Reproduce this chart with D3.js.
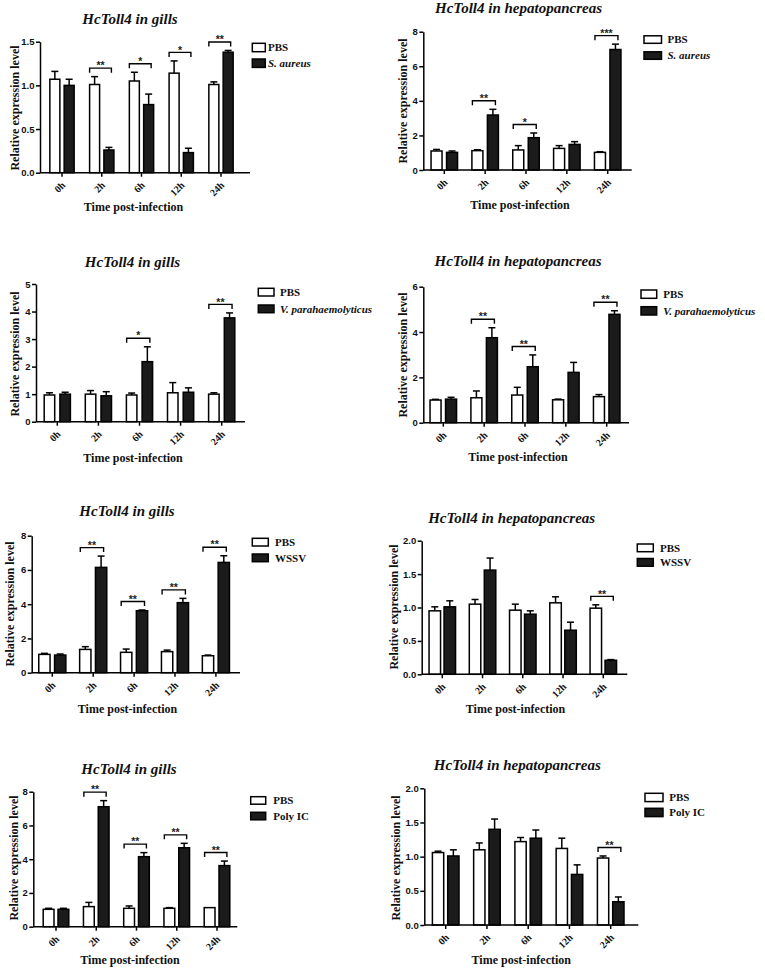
<!DOCTYPE html>
<html>
<head>
<meta charset="utf-8">
<script src="https://cdn.jsdelivr.net/npm/d3@7"></script>
<style>
html,body{margin:0;padding:0;background:#fff;}
svg{display:block;}
</style>
</head>
<body>
<svg id="chart" width="765" height="971"></svg>
<script>
// ---------------- DATA ----------------
const categories = ["0h", "2h", "6h", "12h", "24h"];
const controlName = "PBS";
const titleGills = "HcToll4 in gills";
const titleHepato = "HcToll4 in hepatopancreas";
const treatments = ["S. aureus", "V. parahaemolyticus", "WSSV", "Poly IC"];
const xAxisTitle = "Time post-infection";
const yAxisTitle = "Relative expression level";

// S. aureus - gills
const p1Pbs = [1.07, 1.01, 1.05, 1.14, 1.01];
const p1PbsErr = [0.09, 0.09, 0.10, 0.14, 0.03];
const p1Trt = [1.00, 0.26, 0.78, 0.23, 1.38];
const p1TrtErr = [0.07, 0.03, 0.12, 0.05, 0.02];
const p1Sig = ["", "**", "*", "*", "**"];
const p1Ticks = [0, 0.5, 1.0, 1.5];

// S. aureus - hepatopancreas
const p2Pbs = [1.10, 1.12, 1.16, 1.25, 1.02];
const p2PbsErr = [0.09, 0.05, 0.25, 0.16, 0.04];
const p2Trt = [1.02, 3.18, 1.87, 1.48, 6.97];
const p2TrtErr = [0.08, 0.33, 0.27, 0.16, 0.31];
const p2Sig = ["", "**", "*", "", "***"];
const p2Ticks = [0, 2, 4, 6, 8];

// V. parahaemolyticus - gills
const p3Pbs = [0.97, 1.00, 0.97, 1.05, 1.00];
const p3PbsErr = [0.08, 0.13, 0.07, 0.37, 0.05];
const p3Trt = [1.00, 0.94, 2.18, 1.07, 3.77];
const p3TrtErr = [0.07, 0.15, 0.54, 0.16, 0.18];
const p3Sig = ["", "", "*", "", "**"];
const p3Ticks = [0, 1, 2, 3, 4, 5];

// V. parahaemolyticus - hepatopancreas
const p4Pbs = [1.00, 1.10, 1.22, 1.01, 1.15];
const p4PbsErr = [0.03, 0.30, 0.34, 0.03, 0.09];
const p4Trt = [1.04, 3.75, 2.47, 2.22, 4.78];
const p4TrtErr = [0.08, 0.44, 0.52, 0.44, 0.16];
const p4Sig = ["", "**", "**", "", "**"];
const p4Ticks = [0, 2, 4, 6];

// WSSV - gills
const p5Pbs = [1.07, 1.36, 1.19, 1.23, 0.99];
const p5PbsErr = [0.06, 0.16, 0.19, 0.09, 0.04];
const p5Trt = [1.03, 6.15, 3.62, 4.09, 6.44];
const p5TrtErr = [0.06, 0.66, 0.04, 0.25, 0.39];
const p5Sig = ["", "**", "**", "**", "**"];
const p5Ticks = [0, 2, 4, 6, 8];

// WSSV - hepatopancreas
const p6Pbs = [0.95, 1.05, 0.96, 1.07, 0.99];
const p6PbsErr = [0.06, 0.07, 0.09, 0.09, 0.05];
const p6Trt = [1.01, 1.56, 0.90, 0.66, 0.21];
const p6TrtErr = [0.09, 0.18, 0.05, 0.12, 0.01];
const p6Sig = ["", "", "", "", "**"];
const p6Ticks = [0, 0.5, 1.0, 1.5, 2.0];

// Poly IC - gills
const p7Pbs = [1.03, 1.19, 1.09, 1.09, 1.13];
const p7PbsErr = [0.06, 0.25, 0.14, 0.04, 0.0];
const p7Trt = [1.03, 7.11, 4.15, 4.68, 3.62];
const p7TrtErr = [0.06, 0.36, 0.24, 0.26, 0.27];
const p7Sig = ["", "**", "**", "**", "**"];
const p7Ticks = [0, 2, 4, 6, 8];

// Poly IC - hepatopancreas
const p8Pbs = [1.06, 1.10, 1.22, 1.12, 0.98];
const p8PbsErr = [0.02, 0.10, 0.06, 0.15, 0.03];
const p8Trt = [1.01, 1.40, 1.27, 0.74, 0.34];
const p8TrtErr = [0.09, 0.15, 0.12, 0.14, 0.07];
const p8Sig = ["", "", "", "", "**"];
const p8Ticks = [0, 0.5, 1.0, 1.5, 2.0];

// ---------------- PANELS (data binding + layout) ----------------
const panels = [
  {title: titleGills, trt: treatments[0], italic: true, pbs: p1Pbs, pbsErr: p1PbsErr, trtV: p1Trt, trtErr: p1TrtErr, sig: p1Sig, ticks: p1Ticks, fmt: ".1f",
   L: {x0: 40, x1: 250, yTop: 41.7, yBot: 172.7, c0: 62, s: 39.75, bw: 10, gap: 4.3,
       tx: 130, ty: 24, ylx: 15, yly: 108, xlx: 133.5, xly: 211,
       lgx: 252.3, lgy: 43.3, lgw: 13, lgh: 8.4, lgdy: 15.7, lgtx: 268}},
  {title: titleHepato, trt: treatments[0], italic: true, pbs: p2Pbs, pbsErr: p2PbsErr, trtV: p2Trt, trtErr: p2TrtErr, sig: p2Sig, ticks: p2Ticks, fmt: "d",
   L: {x0: 423.3, x1: 631.7, yTop: 31.7, yBot: 170, c0: 444.3, s: 40.85, bw: 11, gap: 4.5,
       tx: 518.5, ty: 12.5, ylx: 402.5, yly: 101, xlx: 520, xly: 209,
       lgx: 644, lgy: 35.8, lgw: 17.5, lgh: 7.5, lgdy: 16, lgtx: 667.5}},
  {title: titleGills, trt: treatments[1], italic: true, pbs: p3Pbs, pbsErr: p3PbsErr, trtV: p3Trt, trtErr: p3TrtErr, sig: p3Sig, ticks: p3Ticks, fmt: "d",
   L: {x0: 36, x1: 245, yTop: 284, yBot: 421.7, c0: 57.3, s: 41.1, bw: 10.5, gap: 5.2,
       tx: 132.5, ty: 267, ylx: 15, yly: 354, xlx: 133, xly: 462,
       lgx: 258.3, lgy: 288.3, lgw: 15.7, lgh: 7.7, lgdy: 16.7, lgtx: 280}},
  {title: titleHepato, trt: treatments[1], italic: true, pbs: p4Pbs, pbsErr: p4PbsErr, trtV: p4Trt, trtErr: p4TrtErr, sig: p4Sig, ticks: p4Ticks, fmt: "d",
   L: {x0: 423.3, x1: 629, yTop: 286.7, yBot: 422.7, c0: 443.3, s: 40.85, bw: 11, gap: 4.5,
       tx: 518, ty: 266, ylx: 402.5, yly: 355, xlx: 518, xly: 461,
       lgx: 641, lgy: 290, lgw: 15.7, lgh: 8.3, lgdy: 16.7, lgtx: 663.3}},
  {title: titleGills, trt: treatments[2], italic: false, pbs: p5Pbs, pbsErr: p5PbsErr, trtV: p5Trt, trtErr: p5TrtErr, sig: p5Sig, ticks: p5Ticks, fmt: "d",
   L: {x0: 31.7, x1: 240, yTop: 535.7, yBot: 672.7, c0: 52.3, s: 40.9, bw: 11.3, gap: 4.5,
       tx: 127, ty: 516, ylx: 9.5, yly: 604, xlx: 127.5, xly: 713,
       lgx: 252.3, lgy: 538.3, lgw: 16, lgh: 7.7, lgdy: 15.7, lgtx: 275}},
  {title: titleHepato, trt: treatments[2], italic: false, pbs: p6Pbs, pbsErr: p6PbsErr, trtV: p6Trt, trtErr: p6TrtErr, sig: p6Sig, ticks: p6Ticks, fmt: ".1f",
   L: {x0: 421.7, x1: 627.3, yTop: 540.7, yBot: 674.3, c0: 442.3, s: 40.25, bw: 11.5, gap: 3.5,
       tx: 511.7, ty: 523, ylx: 394, yly: 607, xlx: 515.5, xly: 713,
       lgx: 637.3, lgy: 544, lgw: 16, lgh: 7.7, lgdy: 14.5, lgtx: 660}},
  {title: titleGills, trt: treatments[3], italic: false, pbs: p7Pbs, pbsErr: p7PbsErr, trtV: p7Trt, trtErr: p7TrtErr, sig: p7Sig, ticks: p7Ticks, fmt: "d",
   L: {x0: 33.3, x1: 237.3, yTop: 791.7, yBot: 926.7, c0: 56, s: 40.25, bw: 10.8, gap: 4,
       tx: 129, ty: 774, ylx: 14, yly: 858, xlx: 130, xly: 964,
       lgx: 250.7, lgy: 796.7, lgw: 15, lgh: 7.5, lgdy: 15.6, lgtx: 273.3}},
  {title: titleHepato, trt: treatments[3], italic: false, pbs: p8Pbs, pbsErr: p8PbsErr, trtV: p8Trt, trtErr: p8TrtErr, sig: p8Sig, ticks: p8Ticks, fmt: ".1f",
   L: {x0: 424.3, x1: 638.3, yTop: 788.3, yBot: 925, c0: 445.7, s: 41.25, bw: 11.3, gap: 4,
       tx: 517.3, ty: 770, ylx: 396, yly: 858, xlx: 521.3, xly: 964,
       lgx: 645, lgy: 793.3, lgw: 18, lgh: 8.3, lgdy: 15, lgtx: 669.3}}
];

// ---------------- DRAW ----------------
const SERIF = "'Liberation Serif','Times New Roman',Times,serif";
const SANS = "'Liberation Sans',Arial,Helvetica,sans-serif";
const DARK = "#1b1b1b";
const svg = d3.select("#chart");

panels.forEach(p => {
  const L = p.L;
  const g = svg.append("g");
  const yMax = p.ticks[p.ticks.length - 1];
  const y = d3.scaleLinear().domain([0, yMax]).range([L.yBot, L.yTop]);
  const x = d3.scaleBand().domain(categories).range([L.c0 - L.s / 2, L.c0 + 4.5 * L.s]).padding(0);
  const groups = [controlName, p.trt];

  const rows = categories.map((c, i) => ({
    cat: c,
    vals: [
      {key: controlName, v: p.pbs[i], e: p.pbsErr[i]},
      {key: p.trt, v: p.trtV[i], e: p.trtErr[i]}
    ],
    sig: p.sig[i]
  }));

  const catG = g.selectAll("g.cat").data(rows).join("g").attr("class", "cat");
  catG.each(function(r) {
    const cx = x(r.cat) + x.bandwidth() / 2;
    const W = 2 * L.bw + L.gap;
    const sub = d3.scaleBand().domain(groups).range([cx - W / 2, cx + W / 2])
      .paddingInner(L.gap / (L.bw + L.gap)).paddingOuter(0);
    const sel = d3.select(this);
    // error bars (upper only)
    sel.selectAll("g.err").data(r.vals).join("g").attr("class", "err").each(function(d) {
      if (d.e <= 0) return;
      const bx = sub(d.key) + sub.bandwidth() / 2;
      const e = d3.select(this);
      e.append("line").attr("x1", bx).attr("x2", bx).attr("y1", y(d.v)).attr("y2", y(d.v + d.e))
        .attr("stroke", "#000").attr("stroke-width", 1.5);
      e.append("line").attr("x1", bx - 3.5).attr("x2", bx + 3.5).attr("y1", y(d.v + d.e)).attr("y2", y(d.v + d.e))
        .attr("stroke", "#000").attr("stroke-width", 1.5);
    });
    // bars
    sel.selectAll("rect.bar").data(r.vals).join("rect").attr("class", "bar")
      .attr("x", d => sub(d.key))
      .attr("width", sub.bandwidth())
      .attr("y", d => y(d.v))
      .attr("height", d => y(0) - y(d.v))
      .attr("fill", (d, i) => i === 0 ? "#fff" : DARK)
      .attr("stroke", "#000").attr("stroke-width", 1.5);
    // significance bracket
    if (r.sig) {
      const top = d3.max(r.vals, d => d.v + d.e);
      const by = y(top) - 8.5;
      const xa = sub(controlName) + sub.bandwidth() / 2 - 5;
      const xb = sub(p.trt) + sub.bandwidth() / 2 + 2.5;
      sel.append("path")
        .attr("d", `M${xa},${by + 4.5}V${by}H${xb}V${by + 4.5}`)
        .attr("fill", "none").attr("stroke", "#000").attr("stroke-width", 1.4);
      sel.append("text").attr("x", (xa + xb) / 2).attr("y", by + 1.2)
        .attr("text-anchor", "middle").attr("font-family", SANS).attr("font-weight", "bold")
        .attr("font-size", 10.5).attr("fill", "#222").text(r.sig);
    }
  });

  // y axis
  const yAxis = d3.axisLeft(y).tickValues(p.ticks).tickFormat(d3.format(p.fmt)).tickSize(4).tickSizeOuter(0).tickPadding(1.5);
  const ya = g.append("g").attr("transform", `translate(${L.x0},0)`).call(yAxis);
  ya.select(".domain").attr("stroke-width", 1.5);
  ya.selectAll(".tick line").attr("stroke-width", 1.5);
  ya.selectAll(".tick text").attr("font-family", SANS).attr("font-weight", "bold").attr("font-size", 9.5).attr("fill", "#111");

  // x axis
  const xAxis = d3.axisBottom(x).tickSize(4).tickSizeOuter(0).tickPadding(0);
  const xa = g.append("g").attr("transform", `translate(0,${L.yBot})`).call(xAxis);
  xa.select(".domain").remove();
  xa.append("line").attr("x1", L.x0).attr("x2", L.x1).attr("y1", 0).attr("y2", 0)
    .attr("stroke", "#000").attr("stroke-width", 1.5);
  xa.selectAll(".tick line").attr("stroke-width", 1.5);
  xa.selectAll(".tick text")
    .attr("font-family", SERIF).attr("font-weight", "bold").attr("font-size", 10).attr("fill", "#111")
    .attr("text-anchor", "end").attr("dy", null).attr("y", null)
    .attr("transform", "translate(4,13) rotate(-45)");

  // titles
  g.append("text").attr("x", L.tx).attr("y", L.ty).attr("text-anchor", "middle")
    .attr("font-family", SERIF).attr("font-weight", "bold").attr("font-style", "italic")
    .attr("font-size", 15).attr("fill", "#111").text(p.title);
  g.append("text").attr("transform", `translate(${L.ylx},${L.yly}) rotate(-90)`).attr("text-anchor", "middle")
    .attr("dy", "0.35em")
    .attr("font-family", SERIF).attr("font-weight", "bold").attr("font-size", 12).attr("fill", "#111").text(yAxisTitle);
  g.append("text").attr("x", L.xlx).attr("y", L.xly).attr("text-anchor", "middle")
    .attr("font-family", SERIF).attr("font-weight", "bold").attr("font-size", 12).attr("fill", "#111").text(xAxisTitle);

  // legend
  const lg = g.append("g");
  groups.forEach((name, i) => {
    const yy = L.lgy + i * L.lgdy;
    lg.append("rect").attr("x", L.lgx).attr("y", yy).attr("width", L.lgw).attr("height", L.lgh)
      .attr("fill", i === 0 ? "#fff" : DARK).attr("stroke", "#000").attr("stroke-width", 1.5);
    lg.append("text").attr("x", L.lgtx).attr("y", yy + L.lgh / 2).attr("dy", "0.35em")
      .attr("font-family", SERIF).attr("font-weight", "bold")
      .attr("font-style", (i === 1 && p.italic) ? "italic" : "normal")
      .attr("font-size", 11).attr("fill", "#111").text(name);
  });
});
</script>
</body>
</html>
